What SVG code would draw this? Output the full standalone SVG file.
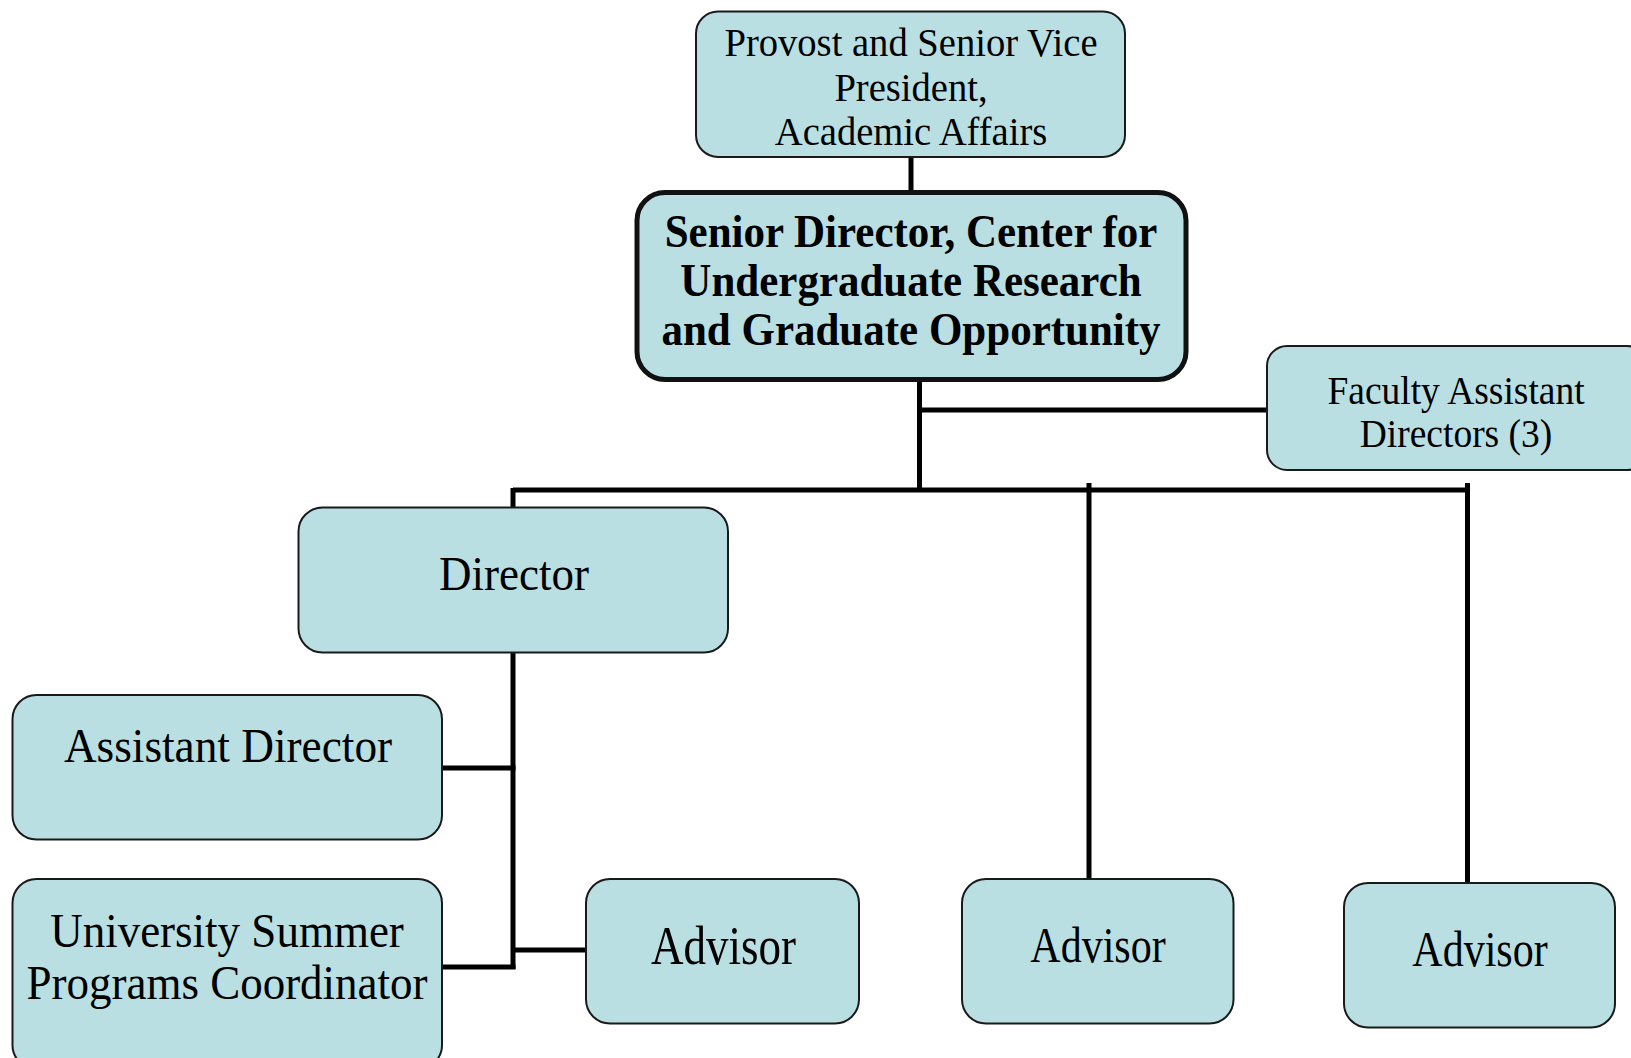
<svg xmlns="http://www.w3.org/2000/svg" width="1631" height="1058" viewBox="0 0 1631 1058">
<style>
.box{fill:#b9dfe2;stroke:#1a1a1a;stroke-width:2}
.main{fill:#b9dfe2;stroke:#111;stroke-width:5}
.t{font-family:"Liberation Serif","Times New Roman",serif;fill:#000;text-anchor:middle}
.b{font-weight:bold}
.c{fill:none;stroke:#000;stroke-width:5;stroke-linecap:butt}
</style>
<rect width="1631" height="1058" fill="#fff"/>
<g id="connectors">
<path class="c" d="M911 157V192"/>
<path class="c" d="M919.5 380V492"/>
<path class="c" d="M919.5 410H1266"/>
<path class="c" d="M513 490H1470"/>
<path class="c" d="M513 488V508"/>
<path class="c" d="M1089 483V879"/>
<path class="c" d="M1467.5 483V883"/>
<path class="c" d="M513 652V969"/>
<path class="c" d="M442 768H515.5"/>
<path class="c" d="M442 967H515.5"/>
<path class="c" d="M513 950H586"/>
</g>
<g id="provost">
<rect class="box" x="696" y="11.5" width="429" height="145.5" rx="22"/>
<text class="t" font-size="38.6" transform="translate(911,56) scale(1,1.05)">Provost and Senior Vice</text>
<text class="t" font-size="38.6" transform="translate(911,101) scale(1,1.05)">President,</text>
<text class="t" font-size="38.6" transform="translate(911,145) scale(1,1.05)">Academic Affairs</text>
</g>
<g id="senior-director">
<rect class="main" x="637" y="192.5" width="549" height="187" rx="28"/>
<text class="t b" font-size="43" transform="translate(911,247) scale(1,1.1)">Senior Director, Center for</text>
<text class="t b" font-size="43" transform="translate(911,296) scale(1,1.1)">Undergraduate Research</text>
<text class="t b" font-size="43" transform="translate(911,345) scale(1,1.1)">and Graduate Opportunity</text>
</g>
<g id="faculty-assistant-directors">
<rect class="box" x="1267" y="346" width="380" height="124" rx="20"/>
<text class="t" font-size="37.5" transform="translate(1456,404) scale(1,1.05)">Faculty Assistant</text>
<text class="t" font-size="37.5" transform="translate(1456,447) scale(1,1.05)">Directors (3)</text>
</g>
<g id="director">
<rect class="box" x="298.5" y="507.5" width="429.5" height="145" rx="24"/>
<text class="t" font-size="45" transform="translate(514,590) scale(1,1.08)">Director</text>
</g>
<g id="assistant-director">
<rect class="box" x="12.5" y="695" width="429.5" height="144.5" rx="24"/>
<text class="t" font-size="45.3" transform="translate(228,762) scale(1,1.08)">Assistant Director</text>
</g>
<g id="summer-programs-coordinator">
<rect class="box" x="12.5" y="879" width="429.5" height="190" rx="24"/>
<text class="t" font-size="45" transform="translate(227,947) scale(1,1.08)">University Summer</text>
<text class="t" font-size="45" transform="translate(227,999) scale(1,1.08)">Programs Coordinator</text>
</g>
<g id="advisor-1">
<rect class="box" x="586" y="879" width="273" height="144.5" rx="24"/>
<text class="t" font-size="45" transform="translate(723.5,964) scale(1,1.2)">Advisor</text>
</g>
<g id="advisor-2">
<rect class="box" x="962" y="879" width="271.5" height="144.5" rx="24"/>
<text class="t" font-size="42" transform="translate(1098,962) scale(1,1.2)">Advisor</text>
</g>
<g id="advisor-3">
<rect class="box" x="1344" y="883" width="271" height="144.5" rx="24"/>
<text class="t" font-size="42" transform="translate(1480,966) scale(1,1.2)">Advisor</text>
</g>
</svg>
